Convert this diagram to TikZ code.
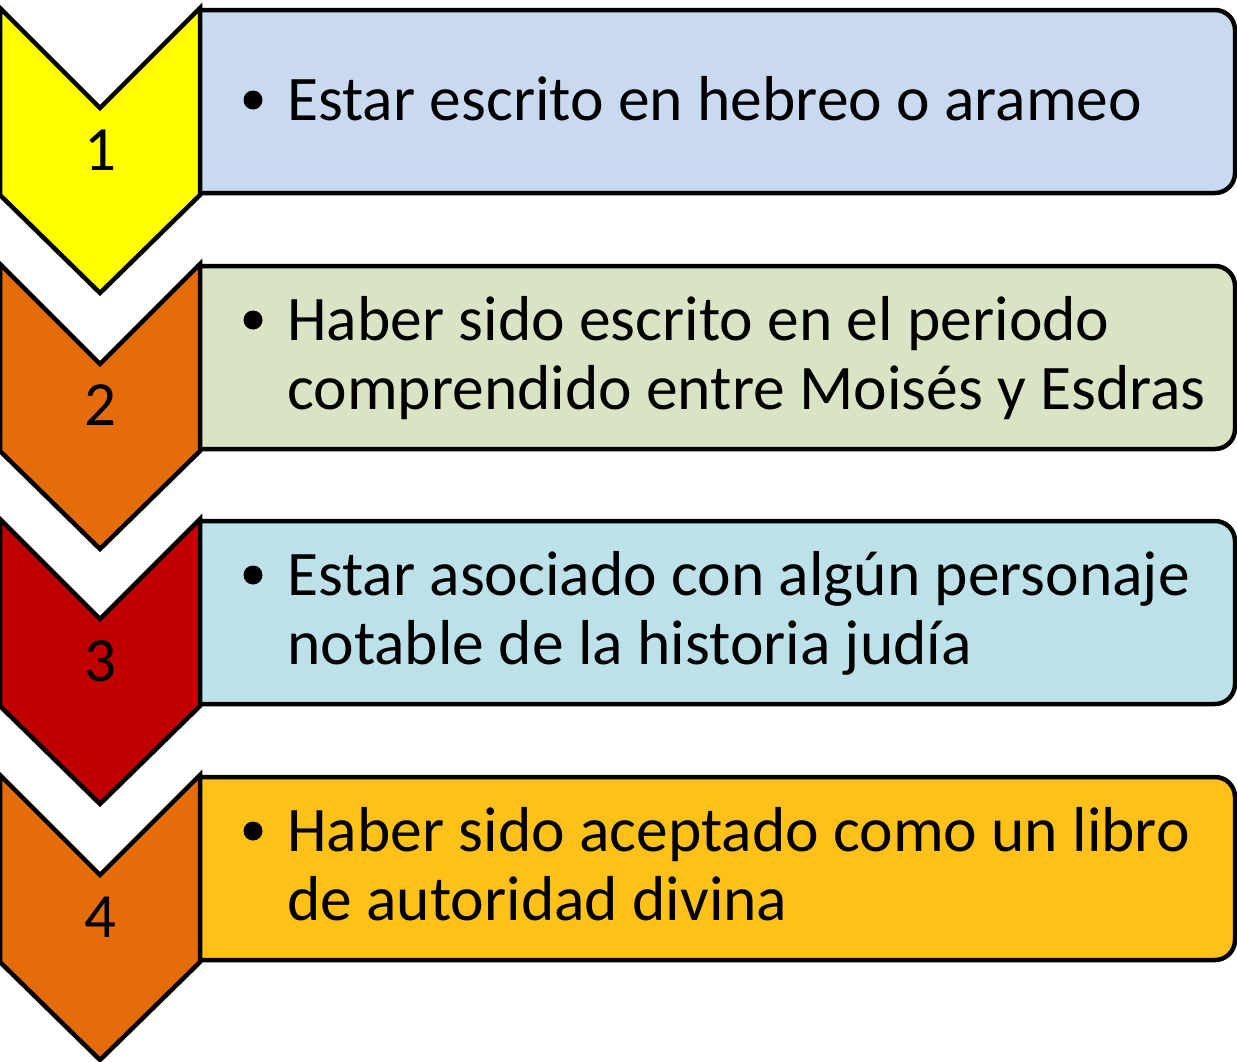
\documentclass[tikz,border=0pt]{standalone}
\usepackage{fontspec}
\setmainfont{Carlito}
\definecolor{cYellow}{HTML}{FFFF00}
\definecolor{cOrange}{HTML}{E46C0A}
\definecolor{cRed}{HTML}{C00000}
\definecolor{bBlue}{HTML}{C9DAF0}
\definecolor{bGreen}{HTML}{D8E4C3}
\definecolor{bCyan}{HTML}{BDE1E9}
\definecolor{bGold}{HTML}{FDC11A}
\tikzset{
  chev/.style={draw=black, line width=4.5pt, line join=miter, miter limit=10},
  boxshape/.style={draw=black, line width=4.5pt, rounded corners=20pt},
  numtxt/.style={font=\fontsize{63}{63}\selectfont, anchor=base, inner sep=0pt},
  itemtxt/.style={font=\fontsize{63.5}{63.5}\selectfont, anchor=base west, inner sep=0pt},
  bul/.style={fill=black, circle, inner sep=0pt, minimum size=19pt},
}
\begin{document}
\begin{tikzpicture}[x=1pt, y=-1pt]
\useasboundingbox (0,0) rectangle (1237,1061);
% boxes
\foreach \T/\col in {8/bBlue, 264/bGreen, 519/bCyan, 775/bGold}{
  \filldraw[boxshape, fill=\col] (200,\T+2) -- (1235,\T+2) -- (1235,\T+185) -- (200,\T+185);
}
% chevrons
\foreach \T/\col in {8/cYellow, 264/cOrange, 519/cRed, 775/cOrange}{
  \filldraw[chev, fill=\col] (0,\T) -- (100,\T+100) -- (200,\T) -- (200,\T+187) -- (100,\T+285) -- (0,\T+187) -- cycle;
}
% numbers
\node[numtxt] (n1) at (100,170) {1};
\node[numtxt] (n2) at (100,425) {2};
\node[numtxt] (n3) at (100,681) {3};
\node[numtxt] (n4) at (100,937) {4};
% bullets
\node[bul] (b1) at (253,100) {};
\node[bul] (b2) at (253,320) {};
\node[bul] (b3) at (253,575) {};
\node[bul] (b4) at (253,831) {};
% texts
\node[itemtxt] (t1) at (287,120) {Estar escrito en hebreo o arameo};
\node[itemtxt] (t2a) at (287,340) {Haber sido escrito en el periodo};
\node[itemtxt] (t2b) at (287,409) {comprendido entre Moisés y Esdras};
\node[itemtxt] (t3a) at (287,595) {Estar asociado con algún personaje};
\node[itemtxt] (t3b) at (287,664) {notable de la historia judía};
\node[itemtxt] (t4a) at (287,851) {Haber sido aceptado como un libro};
\node[itemtxt] (t4b) at (287,920) {de autoridad divina};
\end{tikzpicture}
\end{document}
